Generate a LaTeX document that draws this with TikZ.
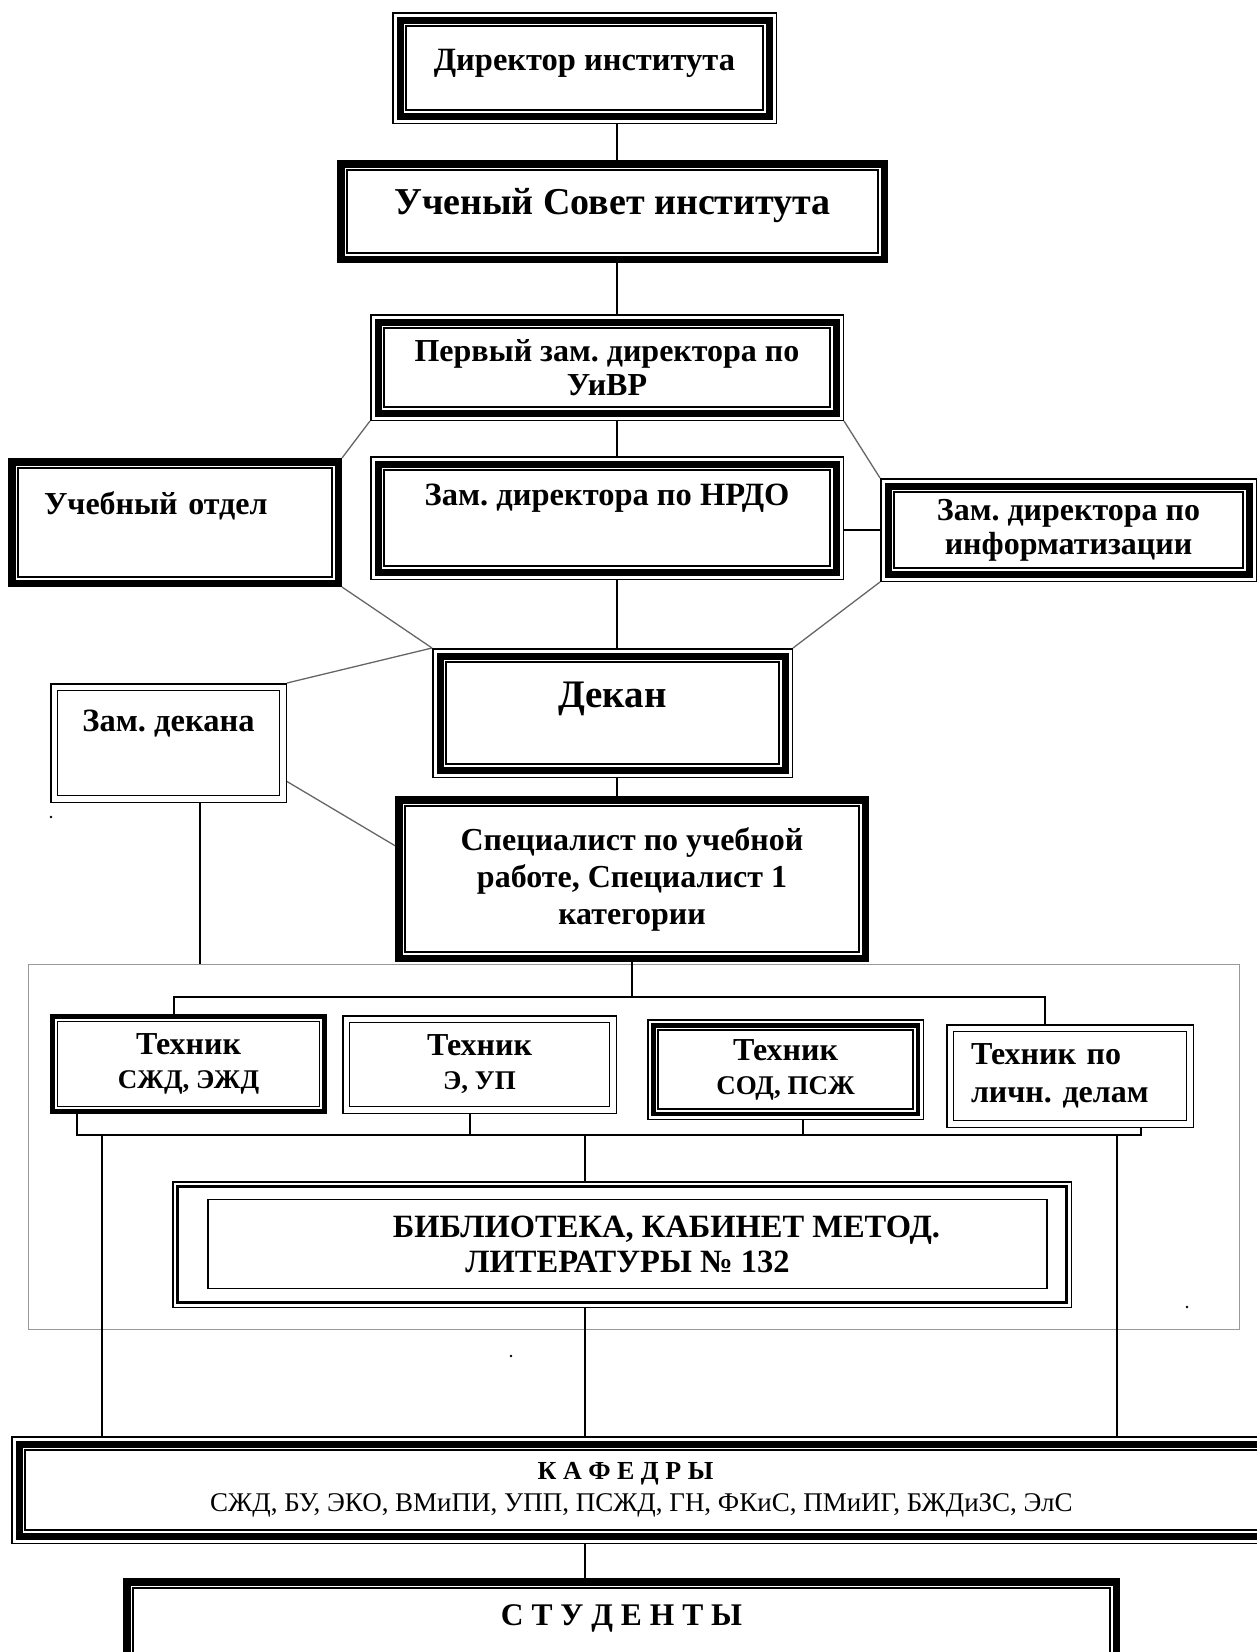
\documentclass[tikz,border=0pt]{standalone}
\usepackage{fontspec}
\setmainfont{Liberation Serif}
\frenchspacing
\usepackage{tikz}
\usetikzlibrary{calc}
\tikzset{>=latex}
\newcommand{\fs}[2]{\fontsize{#1}{#2}\selectfont}
\tikzstyle{block} = [draw, fill=white, line width=1.5, inner sep=2, align=center]
\tikzstyle{tto} = [block, outer sep=14,
    preaction={draw, double, line width=1.5, double distance=25},
    preaction={draw, double, line width=7, double distance=5}]
\tikzstyle{ttolight} = [block, outer sep=11,
    preaction={draw, double, line width=1.5, double distance=19},
    preaction={draw, double, line width=4.5, double distance=5}]
\tikzstyle{tt} = [block, outer sep=10,
    preaction={draw, double, line width=7.5, double distance=5}]
\tikzstyle{ttlight} = [block, outer sep=7.5,
    preaction={draw, double, line width=5, double distance=5}]
\tikzstyle{dbl} = [block, outer sep=7.5,
    preaction={draw, double, line width=1.5, double distance=12}]
\tikzstyle{libframe} = [block, line width=3, outer sep=5.5,
    preaction={draw, double, line width=1.5, double distance=8}]
\tikzstyle{wire} = [draw, line width=1.5]
\tikzstyle{slant} = [draw, line width=1.3, black!60]

\begin{document}
\begin{tikzpicture}[x=1pt, y=-1pt]
    \clip (0,0) rectangle (1257,1652);
    % We start by placing the blocks of the upper chain
    \node [tto, minimum width=357, minimum height=84, font=\fs{32.5}{36}\bfseries,
        text height=23.4, text depth=17.8] (dir) at (584.5,68) {Директор института};
    \node [tt, minimum width=531, minimum height=83, font=\fs{38}{40}\bfseries,
        text height=27.4, text depth=21.3] (sov) at (612.5,211.5) {Ученый Совет института};
    \node [tto, minimum width=446, minimum height=79, font=\fs{32}{34}\bfseries]
        (first) at (607,367.5) {Первый зам. директора по\\УиВР};
    \node [tt, minimum width=314, minimum height=109, font=\fs{32}{34}\bfseries,
        text width=262, align=left, text height=22.3, text depth=38.8]
        (uch) at (175,522.5) {Учебный отдел};
    \node [tto, minimum width=446, minimum height=96, font=\fs{32.5}{34}\bfseries,
        text height=22.6, text depth=48.5] (nrdo) at (607,518) {Зам. директора по НРДО};
    \node [tto, minimum width=349, minimum height=76, font=\fs{32}{34}\bfseries]
        (info) at (1068.5,530) {Зам. директора по\\информатизации};
    \node [tto, minimum width=333, minimum height=102, font=\fs{39}{40}\bfseries,
        text height=28, text depth=38.3] (dekan) at (612.5,713) {Декан};
    \node [dbl, minimum width=222, minimum height=105, font=\fs{32.5}{34}\bfseries,
        text height=23.4, text depth=46.2] (zdek) at (168.5,743) {Зам. декана};
    \node [tt, minimum width=454, minimum height=146, font=\fs{32}{37}\bfseries]
        (spec) at (632,879) {Специалист по учебной\\работе, Специалист 1\\категории};

    % the group of technicians and the library
    \node [draw=black!40, line width=1, fill=none, minimum width=1211, minimum height=365,
        inner sep=0, outer sep=0] (grp) at (633.5,1146.5) {};
    \node [ttlight, minimum width=262, minimum height=85, font=\fs{32}{34}\bfseries]
        (tech1) at (188.5,1064) {Техник\\{\fs{27}{30}СЖД, ЭЖД}};
    \node [dbl, minimum width=260, minimum height=84, font=\fs{32}{34}\bfseries]
        (tech2) at (479.5,1064.5) {Техник\\{\fs{27}{30}Э, УП}};
    \node [ttolight, minimum width=255, minimum height=79, font=\fs{32}{34}\bfseries]
        (tech3) at (785.5,1069.5) {Техник\\{\fs{27}{30}СОД, ПСЖ}};
    \node [dbl, minimum width=233, minimum height=89, font=\fs{32}{38}\bfseries,
        text width=198, align=left] (tech4) at (1070,1076) {Техник по\\личн. делам};
    \node [libframe, minimum width=889, minimum height=116] (libfrm) at (622,1244.5) {};
    \node [block, minimum width=839, minimum height=89, font=\fs{32.5}{35}\bfseries]
        (lib) at (627.5,1244) {\hspace*{78pt}БИБЛИОТЕКА, КАБИНЕТ МЕТОД.\\ЛИТЕРАТУРЫ № 132};

    % the chairs and the students
    \node [tto, minimum width=1233, minimum height=80, font=\fs{27}{32}]
        (kaf) at (641.5,1490) {{\bfseries\fs{26}{32}К А Ф Е Д Р Ы}\hspace*{32pt}\\СЖД, БУ, ЭКО, ВМиПИ, УПП, ПСЖД, ГН, ФКиС, ПМиИГ, БЖДиЗС, ЭлС};
    \node [tt, minimum width=977, minimum height=92, font=\fs{31.5}{34}\bfseries,
        text height=22.7, text depth=40.7] (stud) at (621.5,1634) {С Т У Д Е Н Т Ы};

    % Once the blocks are placed, we connect them
    \coordinate (spine) at (617,0);
    \draw [wire] (dir.south -| spine) -- (sov.north -| spine);
    \draw [wire] (sov.south -| spine) -- (first.north -| spine);
    \draw [wire] (first.south -| spine) -- (nrdo.north -| spine);
    \draw [wire] (nrdo.south -| spine) -- (dekan.north -| spine);
    \draw [wire] (dekan.south -| spine) -- (spec.north -| spine);
    \draw [wire] (info.west -| nrdo.east) -- (info.west);
    \draw [slant] (first.south west) -- (uch.north east);
    \draw [slant] (first.south east) -- (info.north west);
    \draw [slant] (uch.south east) -- (dekan.north west);
    \draw [slant] (info.south west) -- (dekan.north east);
    \draw [slant] (zdek.north east) -- (dekan.north west);
    \draw [slant] (zdek.-18.65) -- (spec.172.79);
    \coordinate (zd) at (200,0);
    \draw [wire] (zdek.south -| zd) -- (grp.north -| zd);

    % buses of the technicians
    \coordinate (b1) at (174,997);
    \coordinate (b4) at (1045,997);
    \draw [wire] (spec.south) -- (spec.south |- b1);
    \draw [wire] (tech1.north -| b1) -- (b1) -- (b4) -- (tech4.north -| b4);
    \coordinate (c1) at (77,1135);
    \coordinate (c2) at (470,1135);
    \coordinate (c3) at (803,1135);
    \coordinate (c4) at (1141,1135);
    \draw [wire] (tech1.south -| c1) -- (c1) -- (c4) -- (tech4.south -| c4);
    \draw [wire] (tech2.south -| c2) -- (c2);
    \draw [wire] (tech3.south -| c3) -- (c3);
    \coordinate (d1) at (102,1135);
    \coordinate (d2) at (585,1135);
    \coordinate (d3) at (1117,1135);
    \draw [wire] (d1) -- (d1 |- kaf.north);
    \draw [wire] (d3) -- (d3 |- kaf.north);
    \draw [wire] (d2) -- (d2 |- libfrm.north);
    \draw [wire] (libfrm.south -| d2) -- (kaf.north -| d2);
    \draw [wire] (kaf.south -| d2) -- (stud.north -| d2);

    % stray dots
    \fill (51,817) circle [radius=1.3pt];
    \fill (511,1356) circle [radius=1.3pt];
    \fill (1187,1307) circle [radius=1.3pt];
\end{tikzpicture}
\end{document}
